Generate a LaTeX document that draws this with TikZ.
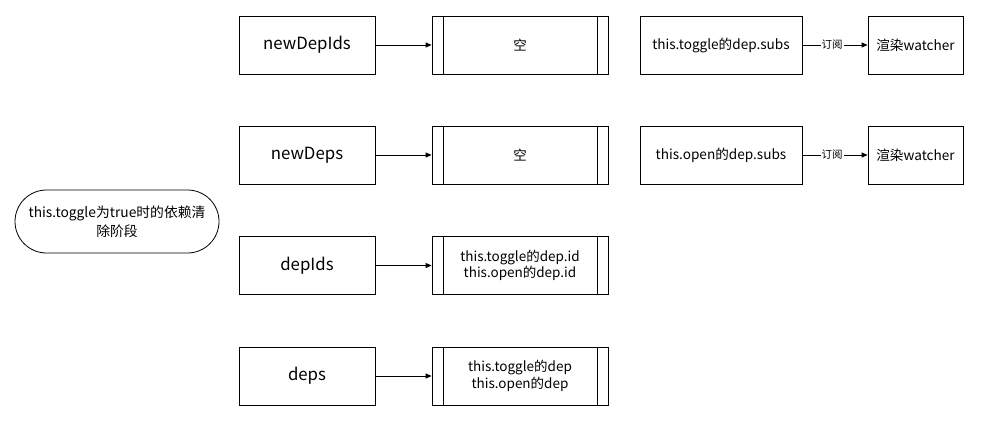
\documentclass[tikz,border=0pt]{standalone}
\usepackage{fontspec}
\setmainfont{Noto Sans CJK SC}
\usetikzlibrary{arrows.meta,shapes.misc}
\begin{document}
\begin{tikzpicture}[x=1pt,y=-1pt,
  base/.style={draw=black,line width=0.8pt,inner sep=0pt},
  keybox/.style={base,rectangle,minimum width=136pt,minimum height=58pt,font=\fontsize{16.8}{20}\selectfont},
  procbox/.style={base,rectangle,minimum width=176pt,minimum height=58pt,font=\fontsize{13.5}{16.5}\selectfont,align=center},
  subbox/.style={base,rectangle,minimum height=58pt,font=\fontsize{13.6}{16}\selectfont},
  pill/.style={base,rounded rectangle,minimum width=204pt,minimum height=63pt,align=center,font=\fontsize{13.8}{19}\selectfont},
  link/.style={line width=0.8pt,-{Triangle[length=6pt,width=5pt]}},
  lbl/.style={font=\fontsize{10.5}{11}\selectfont,fill=white,inner sep=1pt}
]
\useasboundingbox (0,0) rectangle (1002,439);

% phase label
\node[pill] (phase) at (117,221.5) {this.toggle为true时的依赖清\\除阶段};

% key boxes and their contents
\foreach \name/\txt/\y in {ndi/newDepIds/45, nd/newDeps/155, di/depIds/265.5, d/deps/376} {
  \node[keybox] (\name) at (307,\y) {\txt};
}
\node[procbox] (ndiv) at (520,45) {空};
\node[procbox] (ndv) at (520,155) {空};
\node[procbox] (div) at (520,265.5) {this.toggle的dep.id\\this.open的dep.id};
\node[procbox] (dv) at (520,376) {this.toggle的dep\\this.open的dep};

% inner vertical bars of the process boxes
\foreach \n in {ndiv,ndv,div,dv} {
  \draw[line width=0.8pt] ([xshift=12pt]\n.north west) -- ([xshift=12pt]\n.south west);
  \draw[line width=0.8pt] ([xshift=-11pt]\n.north east) -- ([xshift=-11pt]\n.south east);
}

\draw[link] (ndi) -- (ndiv);
\draw[link] (nd) -- (ndv);
\draw[link] (di) -- (div);
\draw[link] (d) -- (dv);

% subscriber lists
\node[subbox,minimum width=162pt] (ts) at (721,45) {this.toggle的dep.subs};
\node[subbox,minimum width=95pt] (tw) at (915.5,45) {渲染watcher};
\node[subbox,minimum width=162pt] (os) at (721,155) {this.open的dep.subs};
\node[subbox,minimum width=95pt] (ow) at (915.5,155) {渲染watcher};

\draw[link] (ts) -- node[lbl,xshift=-3pt] {订阅} (tw);
\draw[link] (os) -- node[lbl,xshift=-3pt] {订阅} (ow);
\end{tikzpicture}
\end{document}
